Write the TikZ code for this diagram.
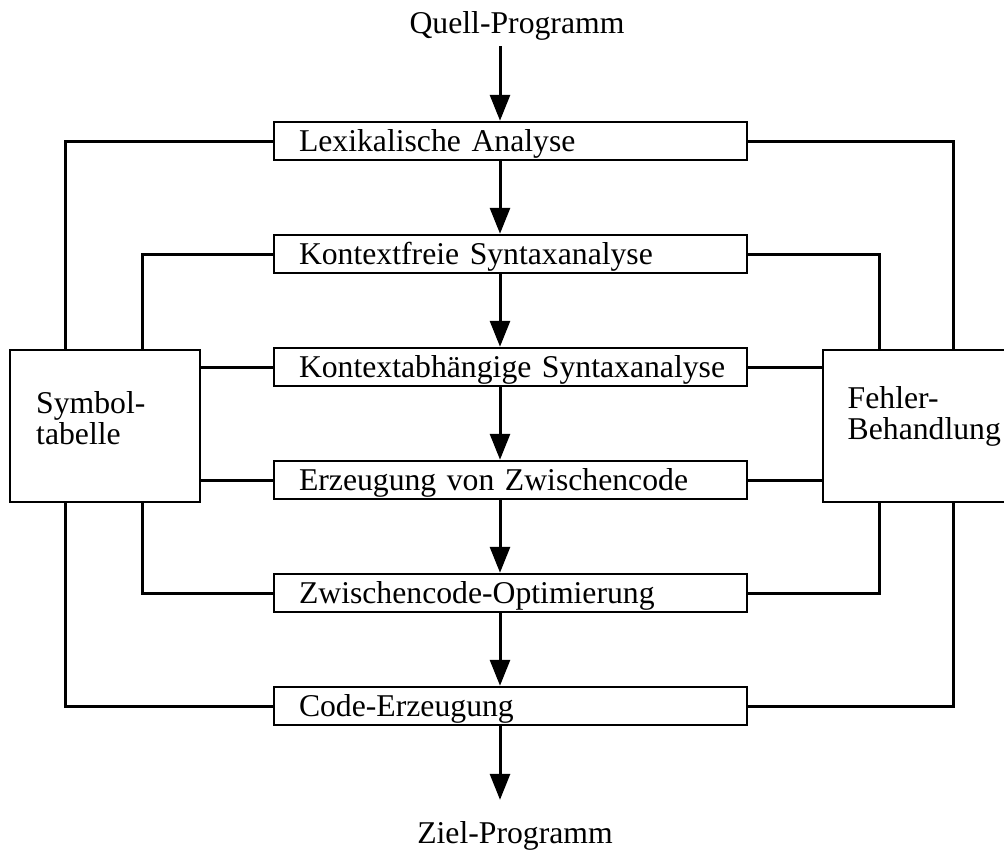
\documentclass[tikz,border=0pt]{standalone}
\usepackage{fontspec}
\setmainfont{Liberation Serif}
\usetikzlibrary{arrows.meta,positioning}

\begin{document}
\begin{tikzpicture}[x=1pt, y=-1pt, node distance=113pt,
    txt/.style={font=\fontsize{31.7}{31}\selectfont},
    stage/.style={txt, draw, line width=2.5pt, minimum width=473pt, minimum height=38pt,
        inner xsep=12.5pt, inner ysep=0pt, text width=448pt, align=left,
        text height=21.5pt, text depth=0pt, execute at begin node={\hspace*{12.5pt}}},
    side/.style={draw, line width=2.5pt, minimum width=190pt, minimum height=152pt, inner sep=0pt},
    sidetxt/.style={txt, anchor=north west, inner sep=0pt, align=left},
    io/.style={txt, anchor=base, inner sep=3pt},
    conn/.style={line width=3pt},
    flow/.style={line width=3pt, -{Triangle[length=26pt,width=20pt]}}]
    \useasboundingbox (0,0) rectangle (1004,854);

    \node[io] (quell) at (517,33) {Quell-Programm};
    \node[io] (ziel) at (515,843) {Ziel-Programm};

    \node[stage] (lex) at (510.5,141) {Lexikalische Analyse};
    \node[stage] (kfs) [below of = lex] {Kontextfreie Syntaxanalyse};
    \node[stage] (kab) [below of = kfs] {Kontextabhängige Syntaxanalyse};
    \node[stage] (zwc) [below of = kab] {Erzeugung von Zwischencode};
    \node[stage] (opt) [below of = zwc] {Zwischencode-Optimierung};
    \node[stage] (gen) [below of = opt] {Code-Erzeugung};

    \node[side] (sym) at (105,426) {};
    \node[side] (err) at (918,426) {};
    \node[sidetxt] (symtxt) at (36,391.4) {Symbol-\\tabelle};
    \node[sidetxt] (errtxt) at (847.5,386.4) {Fehler-\\Behandlung};

    % vertical tracks
    \coordinate (lo) at (65,0);
    \coordinate (li) at (142,0);
    \coordinate (ri) at (879,0);
    \coordinate (ro) at (953,0);
    \coordinate (ax) at (500,0);

    % main flow
    \draw[flow, shorten <=3pt] (ax |- quell.south) -- (ax |- lex.north);
    \draw[flow] (ax |- lex.south) -- (ax |- kfs.north);
    \draw[flow] (ax |- kfs.south) -- (ax |- kab.north);
    \draw[flow] (ax |- kab.south) -- (ax |- zwc.north);
    \draw[flow] (ax |- zwc.south) -- (ax |- opt.north);
    \draw[flow] (ax |- opt.south) -- (ax |- gen.north);
    \draw[flow, shorten >=18pt] (ax |- gen.south) -- (ax |- ziel.north);

    % symbol table
    \draw[conn] (lex.west) -| (lo |- sym.north);
    \draw[conn] (kfs.west) -| (li |- sym.north);
    \draw[conn] (kab.west) -- (kab.west -| sym.east);
    \draw[conn] (zwc.west) -- (zwc.west -| sym.east);
    \draw[conn] (opt.west) -| (li |- sym.south);
    \draw[conn] (gen.west) -| (lo |- sym.south);

    % error handling
    \draw[conn] (lex.east) -| (ro |- err.north);
    \draw[conn] (kfs.east) -| (ri |- err.north);
    \draw[conn] (kab.east) -- (kab.east -| err.west);
    \draw[conn] (zwc.east) -- (zwc.east -| err.west);
    \draw[conn] (opt.east) -| (ri |- err.south);
    \draw[conn] (gen.east) -| (ro |- err.south);
\end{tikzpicture}
\end{document}
